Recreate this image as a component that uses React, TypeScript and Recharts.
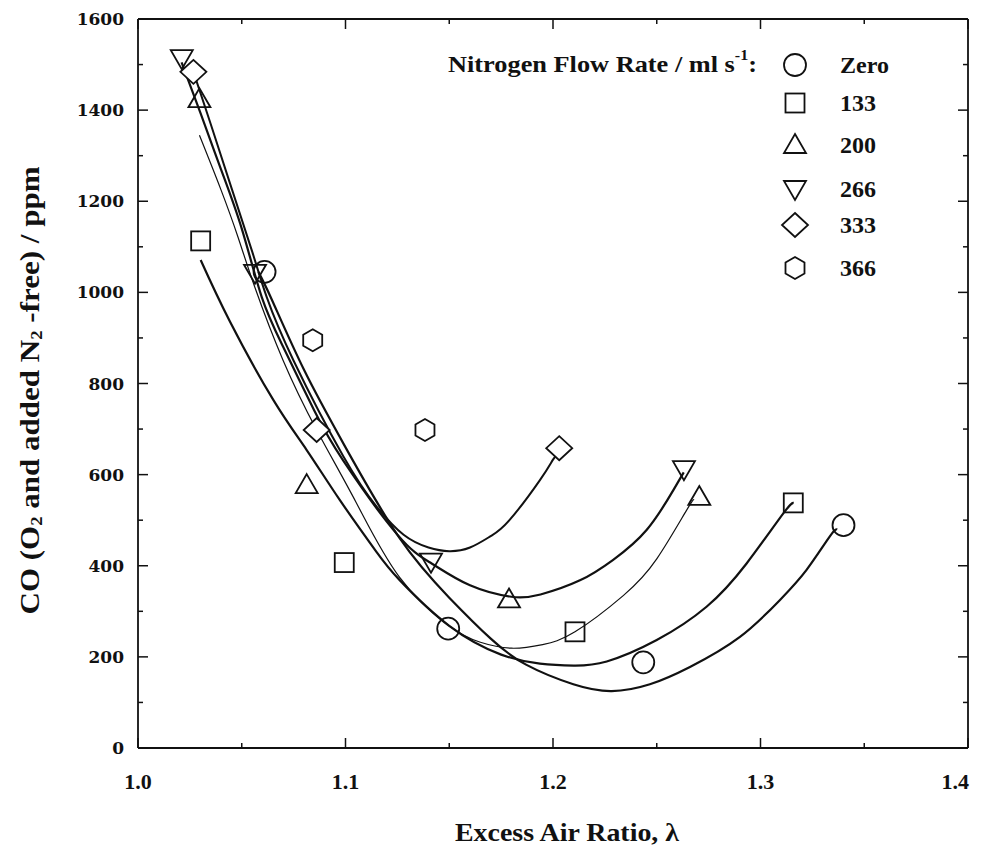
import React from 'react';
import { ComposedChart, Line, Scatter, XAxis, YAxis } from 'recharts';

// ---------- axis ticks ----------
const xTicks = [1.0, 1.05, 1.1, 1.15, 1.2, 1.25, 1.3, 1.35, 1.4];
const yTicks = [0, 100, 200, 300, 400, 500, 600, 700, 800, 900, 1000, 1100, 1200, 1300, 1400, 1500, 1600];

// ---------- measured points ----------
const zeroPts = [
  { x: 1.061, y: 1045 }, { x: 1.1495, y: 262 }, { x: 1.2435, y: 188 }, { x: 1.34, y: 489 },
];
const n133Pts = [
  { x: 1.0302, y: 1113 }, { x: 1.0994, y: 407 }, { x: 1.2106, y: 255 }, { x: 1.3158, y: 538 },
];
const n200Pts = [
  { x: 1.0296, y: 1424 }, { x: 1.0813, y: 577 }, { x: 1.1788, y: 326 }, { x: 1.2705, y: 551 },
];
const n266Pts = [
  { x: 1.0211, y: 1514 }, { x: 1.0564, y: 1043 }, { x: 1.1412, y: 409 }, { x: 1.2631, y: 612 },
];
const n333Pts = [
  { x: 1.0267, y: 1484 }, { x: 1.0861, y: 698 }, { x: 1.203, y: 658 },
];
const n366Pts = [
  { x: 1.0842, y: 895 }, { x: 1.1383, y: 698 },
];

// ---------- fitted curves ----------
const zeroFit = [
  { x: 1.058, y: 1045 }, { x: 1.0644, y: 985 }, { x: 1.08, y: 830 }, { x: 1.1, y: 660 },
  { x: 1.126, y: 461 }, { x: 1.15, y: 330 }, { x: 1.17, y: 240 }, { x: 1.187, y: 183 },
  { x: 1.2098, y: 140 }, { x: 1.2283, y: 125 }, { x: 1.2467, y: 140 }, { x: 1.266, y: 178 },
  { x: 1.2901, y: 244 }, { x: 1.3094, y: 325 }, { x: 1.3222, y: 391 }, { x: 1.3335, y: 465 },
  { x: 1.337, y: 480 },
];
const n133Fit = [
  { x: 1.0302, y: 1071 }, { x: 1.0443, y: 936 }, { x: 1.0652, y: 764 }, { x: 1.0813, y: 654 },
  { x: 1.0973, y: 544 }, { x: 1.115, y: 430 }, { x: 1.126, y: 369 }, { x: 1.15, y: 268 },
  { x: 1.175, y: 205 }, { x: 1.1937, y: 185 }, { x: 1.21, y: 181 }, { x: 1.2259, y: 190 },
  { x: 1.25, y: 237 }, { x: 1.274, y: 310 }, { x: 1.2933, y: 405 }, { x: 1.311, y: 515 },
  { x: 1.316, y: 538 },
];
const n200Fit = [
  { x: 1.0296, y: 1345 }, { x: 1.04, y: 1225 }, { x: 1.0483, y: 1120 }, { x: 1.0564, y: 1010 },
  { x: 1.07, y: 850 }, { x: 1.0861, y: 698 }, { x: 1.105, y: 540 }, { x: 1.126, y: 375 },
  { x: 1.15, y: 268 }, { x: 1.165, y: 232 }, { x: 1.18, y: 219 }, { x: 1.195, y: 227 },
  { x: 1.2106, y: 255 }, { x: 1.234, y: 335 }, { x: 1.25, y: 415 }, { x: 1.2644, y: 522 },
  { x: 1.268, y: 545 },
];
const n266Fit = [
  { x: 1.021, y: 1505 }, { x: 1.03, y: 1395 }, { x: 1.04, y: 1270 }, { x: 1.05, y: 1140 },
  { x: 1.0596, y: 990 }, { x: 1.07, y: 880 }, { x: 1.085, y: 740 }, { x: 1.099, y: 630 },
  { x: 1.1247, y: 470 }, { x: 1.1415, y: 405 }, { x: 1.16, y: 357 }, { x: 1.18, y: 332 },
  { x: 1.194, y: 337 }, { x: 1.213, y: 368 }, { x: 1.229, y: 413 }, { x: 1.2452, y: 479 },
  { x: 1.258, y: 566 }, { x: 1.263, y: 605 },
];
const n333Fit = [
  { x: 1.027, y: 1480 }, { x: 1.035, y: 1370 }, { x: 1.045, y: 1230 }, { x: 1.055, y: 1090 },
  { x: 1.062, y: 990 }, { x: 1.075, y: 850 }, { x: 1.099, y: 640 }, { x: 1.115, y: 530 },
  { x: 1.128, y: 468 }, { x: 1.14, y: 440 }, { x: 1.15, y: 432 }, { x: 1.16, y: 440 },
  { x: 1.17, y: 465 }, { x: 1.179, y: 500 }, { x: 1.1937, y: 588 }, { x: 1.2, y: 633 },
  { x: 1.203, y: 650 },
];

const legendLabels = ['Zero', '133', '200', '266', '333', '366'];
const legendTitle = 'Nitrogen Flow Rate / ml s';

const SERIF = "'Liberation Serif', 'Times New Roman', serif";
const INK = '#111';

// ---------- marker shapes ----------
type Kind = 'circle' | 'square' | 'up' | 'down' | 'diamond' | 'hex';
const drawMarker = (kind: Kind, cx: number, cy: number, key?: string) => {
  const common = { fill: 'none', stroke: INK, strokeWidth: 1.8 } as any;
  switch (kind) {
    case 'circle':
      return <circle key={key} cx={cx} cy={cy} r={11} {...common} />;
    case 'square':
      return <rect key={key} x={cx - 9.5} y={cy - 9.5} width={19} height={19} {...common} />;
    case 'up':
      return <polygon key={key} points={`${cx},${cy - 11} ${cx + 11},${cy + 8} ${cx - 11},${cy + 8}`} {...common} />;
    case 'down':
      return <polygon key={key} points={`${cx - 11},${cy - 8} ${cx + 11},${cy - 8} ${cx},${cy + 11}`} {...common} />;
    case 'diamond':
      return <polygon key={key} points={`${cx},${cy - 12} ${cx + 13},${cy} ${cx},${cy + 12} ${cx - 13},${cy}`} {...common} fill="#fff" />;
    case 'hex':
    default:
      return (
        <polygon
          key={key}
          points={`${cx},${cy - 11} ${cx + 9.5},${cy - 5.5} ${cx + 9.5},${cy + 5.5} ${cx},${cy + 11} ${cx - 9.5},${cy + 5.5} ${cx - 9.5},${cy - 5.5}`}
          {...common}
        />
      );
  }
};
const shapeOf = (kind: Kind) => (p: any) => drawMarker(kind, p.cx, p.cy);

// ---------- axis ticks ----------
const isMajorX = (v: number) => Math.round(v * 100) % 10 === 0;
const isMajorY = (v: number) => Math.round(v) % 200 === 0;

const BottomTick = (p: any) => {
  const v = p.payload.value;
  const major = isMajorX(v);
  const last = Math.abs(v - 1.4) < 1e-9;
  return (
    <g>
      <line x1={p.x} x2={p.x} y1={p.y} y2={p.y - (major ? 10 : 5)} stroke={INK} strokeWidth={1.5} />
      {major && (
        <text
          x={last ? p.x + 1 : p.x}
          y={p.y + 41}
          textAnchor={last ? 'end' : 'middle'}
          fontFamily={SERIF}
          fontWeight="bold"
          fontSize={22}
          fill={INK}
        >
          {v.toFixed(1)}
        </text>
      )}
    </g>
  );
};
const TopTick = (p: any) => {
  const v = p.payload.value;
  const major = isMajorX(v);
  return <line x1={p.x} x2={p.x} y1={p.y} y2={p.y + (major ? 10 : 5)} stroke={INK} strokeWidth={1.5} />;
};
const LeftTick = (p: any) => {
  const v = p.payload.value;
  const major = isMajorY(v);
  return (
    <g>
      <line x1={p.x} x2={p.x + (major ? 10 : 5)} y1={p.y} y2={p.y} stroke={INK} strokeWidth={1.5} />
      {major && (
        <text x={p.x - 14} y={p.y} dy="0.36em" textAnchor="end" fontFamily="'DejaVu Serif', serif" fontWeight="bold" fontSize={17} fill={INK}>
          {v}
        </text>
      )}
    </g>
  );
};
const RightTick = (p: any) => {
  const v = p.payload.value;
  const major = isMajorY(v);
  return <line x1={p.x} x2={p.x - (major ? 10 : 5)} y1={p.y} y2={p.y} stroke={INK} strokeWidth={1.5} />;
};

const YTitle = (p: any) => {
  const vb = p.viewBox || { x: 0, y: 11, width: 130, height: 729 };
  const cx = vb.x + 21;
  const cy = vb.y + vb.height / 2 + 7;
  return (
    <text
      x={cx}
      y={cy}
      transform={`rotate(-90, ${cx}, ${cy})`}
      textAnchor="middle"
      dominantBaseline="central"
      fontFamily={SERIF}
      fontWeight="bold"
      fontSize={28}
      fill={INK}
      textLength={448}
      lengthAdjust="spacingAndGlyphs"
    >
      CO (O<tspan dy="7" fontSize={17}>2</tspan><tspan dy="-7"> and added N</tspan><tspan dy="7" fontSize={17}>2</tspan><tspan dy="-7"> -free) / ppm</tspan>
    </text>
  );
};
const XTitle = (p: any) => {
  const vb = p.viewBox || { x: 130, y: 740, width: 830, height: 92 };
  const cx = vb.x + vb.width / 2 + 14;
  const cy = vb.y + 84;
  return (
    <text
      x={cx}
      y={cy}
      textAnchor="middle"
      dominantBaseline="central"
      fontFamily={SERIF}
      fontWeight="bold"
      fontSize={25}
      fill={INK}
      textLength={224}
      lengthAdjust="spacingAndGlyphs"
    >
      Excess Air Ratio, λ
    </text>
  );
};

const legendKinds: Kind[] = ['circle', 'square', 'up', 'down', 'diamond', 'hex'];
const legendRowY = [57, 95, 137, 181, 217, 260];

const LegendOverlay = () => (
  <svg width={976} height={840} style={{ position: 'absolute', left: 0, top: 0, pointerEvents: 'none' }}>
    <text
      x={440}
      y={56}
      dominantBaseline="central"
      fontFamily={SERIF}
      fontWeight="bold"
      fontSize={23}
      fill={INK}
      textLength={309}
      lengthAdjust="spacingAndGlyphs"
    >
      {legendTitle}
      <tspan dy="-9" fontSize={14}>-1</tspan>
      <tspan dy="9">:</tspan>
    </text>
    {legendKinds.map((k, i) => (
      <g key={k}>
        {drawMarker(k, 787, legendRowY[i])}
        <text x={832} y={legendRowY[i]} dominantBaseline="central" fontFamily={SERIF} fontWeight="bold" fontSize={24} fill={INK}>
          {legendLabels[i]}
        </text>
      </g>
    ))}
  </svg>
);

const curves = [
  { name: 'Zero fit', data: zeroFit, w: 2.2 },
  { name: '133 fit', data: n133Fit, w: 2.2 },
  { name: '200 fit', data: n200Fit, w: 1.2 },
  { name: '266 fit', data: n266Fit, w: 2.2 },
  { name: '333 fit', data: n333Fit, w: 2.0 },
];
const scatters: { name: string; data: { x: number; y: number }[]; kind: Kind }[] = [
  { name: 'Zero', data: zeroPts, kind: 'circle' },
  { name: '133', data: n133Pts, kind: 'square' },
  { name: '200', data: n200Pts, kind: 'up' },
  { name: '266', data: n266Pts, kind: 'down' },
  { name: '333', data: n333Pts, kind: 'diamond' },
  { name: '366', data: n366Pts, kind: 'hex' },
];

export default function App() {
  return (
    <div style={{ position: 'relative', width: 976, height: 840, background: '#fff' }}>
      <ComposedChart width={976} height={840} margin={{ top: 6, right: 8, bottom: 8, left: 0 }}>
        <XAxis
          xAxisId="b"
          dataKey="x"
          type="number"
          domain={[1.0, 1.4]}
          ticks={xTicks}
          interval={0}
          allowDataOverflow
          height={92}
          tickSize={0}
          tickMargin={0}
          tick={<BottomTick />}
          tickLine={false}
          axisLine={{ stroke: INK, strokeWidth: 1.8 }}
          label={<XTitle />}
        />
        <XAxis
          xAxisId="t"
          orientation="top"
          type="number"
          dataKey="x"
          domain={[1.0, 1.4]}
          ticks={xTicks}
          interval={0}
          allowDataOverflow
          height={5}
          tickSize={0}
          tickMargin={0}
          tick={<TopTick />}
          tickLine={false}
          axisLine={{ stroke: INK, strokeWidth: 1.8 }}
        />
        <YAxis
          yAxisId="l"
          type="number"
          domain={[0, 1600]}
          ticks={yTicks}
          interval={0}
          allowDataOverflow
          width={130}
          tickSize={0}
          tickMargin={0}
          tick={<LeftTick />}
          tickLine={false}
          axisLine={{ stroke: INK, strokeWidth: 1.8 }}
          label={<YTitle />}
        />
        <YAxis
          yAxisId="r"
          orientation="right"
          type="number"
          domain={[0, 1600]}
          ticks={yTicks}
          interval={0}
          allowDataOverflow
          width={8}
          tickSize={0}
          tickMargin={0}
          tick={<RightTick />}
          tickLine={false}
          axisLine={{ stroke: INK, strokeWidth: 1.8 }}
        />
        {curves.map((c) => (
          <Line
            key={c.name}
            name={c.name}
            xAxisId="b"
            yAxisId="l"
            data={c.data}
            dataKey="y"
            type="natural"
            stroke={INK}
            strokeWidth={c.w}
            dot={false}
            activeDot={false}
            legendType="none"
            isAnimationActive={false}
          />
        ))}
        {scatters.map((s) => (
          <Scatter
            key={s.name}
            name={s.name}
            xAxisId="b"
            yAxisId="l"
            data={s.data}
            dataKey="y"
            shape={shapeOf(s.kind)}
            isAnimationActive={false}
          />
        ))}
      </ComposedChart>
      <LegendOverlay />
    </div>
  );
}
